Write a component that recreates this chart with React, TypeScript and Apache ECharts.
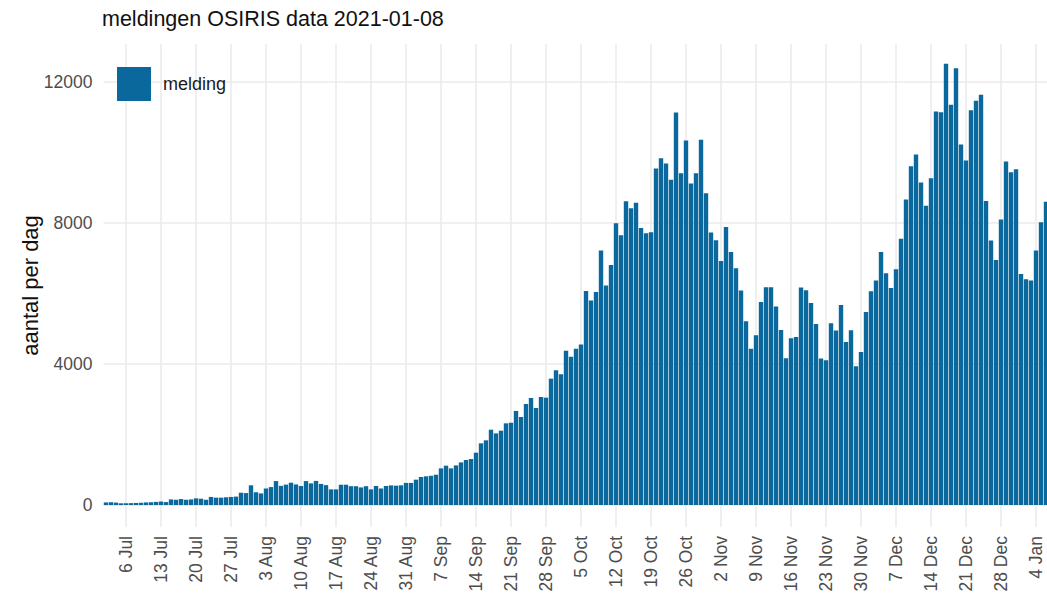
import React, { useEffect, useRef } from "react";
import * as echarts from "echarts";

// Daily counts, 2 Jul 2020 (index 0) .. 6 Jan 2021 (index 188)
const firstDay = "2020-07-02";
const meldingen: number[] = [
  75, 80, 70, 50, 50, 55, 60, 65, 75, 80, 90, 100, 85, 160, 150, 170, 150, 160, 190, 180,
  150, 230, 210, 210, 220, 230, 240, 350, 340, 560, 360, 330, 470, 510, 680, 545, 580, 635, 585, 540,
  680, 615, 685, 600, 565, 445, 445, 577, 577, 535, 535, 500, 535, 445, 540, 470, 540, 558, 550, 560,
  628, 628, 720, 795, 815, 830, 860, 1040, 1116, 1040, 1125, 1210, 1277, 1305, 1485, 1750, 1835, 2137, 2033, 2109,
  2317, 2336, 2667, 2497, 2865, 3036, 2752, 3064, 3045, 3584, 3820, 3707, 4378, 4208, 4435, 4549, 6071, 5797, 6043, 7216,
  6223, 6809, 7991, 7650, 8615, 8416, 8568, 7858, 7707, 7736, 9542, 9835, 9683, 9220, 11131, 9409, 10336, 9116, 9409, 10355,
  8842, 7726, 7508, 6922, 7887, 7178, 6714, 6081, 5210, 4430, 4813, 5759, 6175, 6175, 5627, 4965, 4161, 4728, 4766, 6166,
  6090, 5731, 5135, 4152, 4104, 5154, 4946, 5674, 4625, 4956, 3934, 4341, 5475, 6062, 6364, 7178, 6573, 6156, 6686, 7550,
  8662, 9608, 9939, 9145, 8483, 9268, 11159, 11140, 12511, 11348, 12388, 10223, 9769, 11196, 11462, 11632, 8624, 7499, 6951, 8095,
  9740, 9438, 9523, 6553, 6402, 6364, 7216, 8019, 8596,
];

const xTickLabels: string[] = [
  "6 Jul", "13 Jul", "20 Jul", "27 Jul", "3 Aug", "10 Aug", "17 Aug", "24 Aug", "31 Aug",
  "7 Sep", "14 Sep", "21 Sep", "28 Sep", "5 Oct", "12 Oct", "19 Oct", "26 Oct", "2 Nov",
  "9 Nov", "16 Nov", "23 Nov", "30 Nov", "7 Dec", "14 Dec", "21 Dec", "28 Dec", "4 Jan",
];
const firstTickIndex = 4; // 6 Jul
const yTickValues: number[] = [0, 4000, 8000, 12000];

const BAR_COLOR = "#0a689c";

export default function App() {
  const ref = useRef<HTMLDivElement>(null);

  useEffect(() => {
    if (!ref.current) return;
    const chart = echarts.init(ref.current, null, { renderer: "svg" });
    const xTicks = xTickLabels.map((_, k) => firstTickIndex + 7 * k);
    const data = meldingen.map((v, i) => [i, v]);
    const font = "'Liberation Sans', Arial, Helvetica, sans-serif";

    chart.setOption({
      animation: false,
      textStyle: { fontFamily: font },
      title: {
        text: "meldingen OSIRIS data 2021-01-08",
        left: 102,
        top: 8,
        padding: 0,
        textStyle: { fontSize: 21.5, fontWeight: "normal", color: "#111", fontFamily: font },
      },
      legend: {
        left: 117,
        top: 67,
        padding: 0,
        icon: "rect",
        itemWidth: 34,
        itemHeight: 34,
        data: ["melding"],
        textStyle: { fontSize: 18, color: "#1a1a1a", fontFamily: font, padding: [0, 0, 0, 7] },
      },
      grid: {
        left: 103.5,
        top: 44,
        width: 943.5,
        height: 483,
        outerBoundsMode: "none",
        containLabel: false,
      },
      xAxis: {
        type: "value",
        min: -0.5,
        max: 188.2,
        axisLine: { show: false },
        axisTick: { show: false, customValues: xTicks },
        axisLabel: {
          customValues: xTicks,
          rotate: 90,
          margin: 9,
          fontSize: 17.5,
          color: "#4d4d4d",
          fontFamily: font,
          formatter: (v: number) => xTickLabels[Math.round((v - firstTickIndex) / 7)] ?? "",
        },
        splitLine: { show: true, lineStyle: { color: "#ebebeb", width: 1.6 } },
      },
      yAxis: {
        type: "value",
        min: -622,
        max: 13072,
        axisLine: { show: false },
        axisTick: { show: false, customValues: yTickValues },
        axisLabel: {
          customValues: yTickValues,
          margin: 11,
          fontSize: 17.5,
          color: "#4d4d4d",
          fontFamily: font,
          formatter: (v: number) => String(Math.round(v)),
        },
        splitLine: { show: true, lineStyle: { color: "#ebebeb", width: 1.6 } },
      },
      graphic: [
        {
          type: "text",
          x: 30,
          y: 285.5,
          rotation: Math.PI / 2,
          style: {
            text: "aantal per dag",
            fontSize: 22,
            fontFamily: font,
            fill: "#111",
            textAlign: "center",
            textVerticalAlign: "middle",
          },
        },
      ],
      series: [
        {
          name: "melding",
          type: "bar",
          data,
          barWidth: 4.4,
          itemStyle: { color: BAR_COLOR },
          emphasis: { disabled: true },
        },
      ],
    });

    return () => chart.dispose();
  }, []);

  return (
    <div
      ref={ref}
      style={{ position: "fixed", left: 0, top: 0, width: 1047, height: 599, background: "#fff" }}
    />
  );
}
